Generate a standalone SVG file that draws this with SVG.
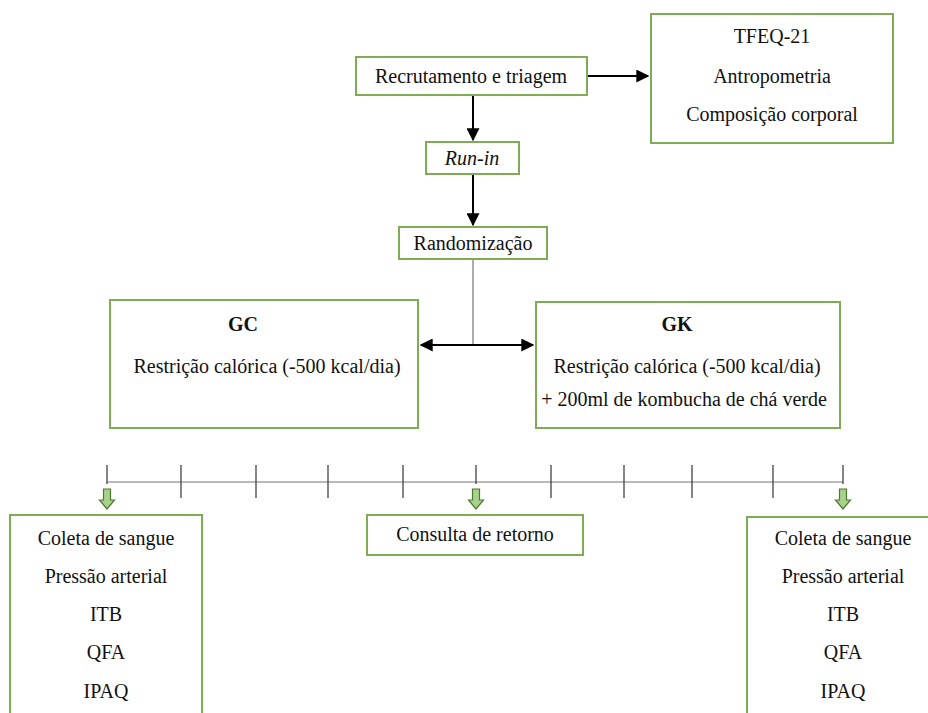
<svg xmlns="http://www.w3.org/2000/svg" width="928" height="713" viewBox="0 0 928 713">
<style>
.box{fill:#fff;stroke:#7fab55;stroke-width:2}
.t{font-family:"Liberation Serif",Tinos,"Times New Roman","DejaVu Serif",serif;font-size:20px;fill:#111;text-anchor:middle}
.b{font-weight:bold}
.arr{stroke:#000;stroke-width:2;fill:none}
.gl{stroke:#777;stroke-width:1.2;fill:none}
.tick{stroke:#333;stroke-width:1.2}
.ga{fill:#a9d18e;stroke:#4e7a2e;stroke-width:1.2}
</style>
<defs>
<marker id="ah" viewBox="0 0 10 10" refX="9" refY="5" markerWidth="6.5" markerHeight="6.5" orient="auto-start-reverse" markerUnits="strokeWidth">
<path d="M0,0 L10,5 L0,10 z" fill="#000"/>
</marker>
<path id="garrow" d="M-3.5,0 h7 v11 h4 l-7.5,9 l-7.5,-9 h4 z"/>
</defs>
<rect width="928" height="713" fill="#fff"/>
<g id="connectors">
<line class="arr" x1="588" y1="76" x2="648" y2="76" marker-end="url(#ah)"/>
<line class="arr" x1="473" y1="96" x2="473" y2="140" marker-end="url(#ah)"/>
<line class="arr" x1="473" y1="175" x2="473" y2="225" marker-end="url(#ah)"/>
<line class="gl" x1="473" y1="260" x2="473" y2="345"/>
<line class="arr" x1="421" y1="345" x2="533" y2="345" marker-start="url(#ah)" marker-end="url(#ah)"/>
</g>
<g id="timeline">
<line class="gl" x1="107" y1="482" x2="843" y2="482"/>
<line class="tick" x1="107" y1="465" x2="107" y2="484"/>
<line class="tick" x1="181" y1="465" x2="181" y2="498"/>
<line class="tick" x1="256" y1="465" x2="256" y2="498"/>
<line class="tick" x1="328" y1="465" x2="328" y2="498"/>
<line class="tick" x1="403" y1="465" x2="403" y2="498"/>
<line class="tick" x1="476" y1="465" x2="476" y2="484"/>
<line class="tick" x1="551" y1="465" x2="551" y2="498"/>
<line class="tick" x1="624" y1="465" x2="624" y2="498"/>
<line class="tick" x1="692" y1="465" x2="692" y2="498"/>
<line class="tick" x1="773" y1="465" x2="773" y2="498"/>
<line class="tick" x1="843" y1="465" x2="843" y2="484"/>
<use href="#garrow" class="ga" x="107" y="489"/>
<use href="#garrow" class="ga" x="476" y="489"/>
<use href="#garrow" class="ga" x="843" y="489"/>
</g>
<g id="recrutamento">
<rect class="box" x="356" y="57" width="231" height="38"/>
<text class="t" x="471" y="83">Recrutamento e triagem</text>
</g>
<g id="tfeq">
<rect class="box" x="651" y="14" width="242" height="129"/>
<text class="t" x="772" y="43">TFEQ-21</text>
<text class="t" x="772" y="83">Antropometria</text>
<text class="t" x="772" y="121">Composição corporal</text>
</g>
<g id="runin">
<rect class="box" x="426" y="142" width="93" height="32"/>
<text class="t" x="472" y="165" font-style="italic">Run-in</text>
</g>
<g id="randomizacao">
<rect class="box" x="399" y="227" width="148" height="32"/>
<text class="t" x="473" y="250">Randomização</text>
</g>
<g id="gc">
<rect class="box" x="110" y="300" width="308" height="128"/>
<text class="t b" x="243" y="331">GC</text>
<text class="t" x="267" y="373">Restrição calórica (-500 kcal/dia)</text>
</g>
<g id="gk">
<rect class="box" x="536" y="302" width="304" height="126"/>
<text class="t b" x="677" y="331">GK</text>
<text class="t" x="687" y="373">Restrição calórica (-500 kcal/dia)</text>
<text class="t" x="684" y="406">+ 200ml de kombucha de chá verde</text>
</g>
<g id="coleta1">
<rect class="box" x="10" y="515" width="192" height="210"/>
<text class="t" x="106" y="545">Coleta de sangue</text>
<text class="t" x="106" y="583">Pressão arterial</text>
<text class="t" x="106" y="621">ITB</text>
<text class="t" x="106" y="659">QFA</text>
<text class="t" x="106" y="698">IPAQ</text>
</g>
<g id="consulta">
<rect class="box" x="367" y="515" width="216" height="40"/>
<text class="t" x="475" y="541">Consulta de retorno</text>
</g>
<g id="coleta2">
<rect class="box" x="747" y="517" width="200" height="210"/>
<text class="t" x="843" y="545">Coleta de sangue</text>
<text class="t" x="843" y="583">Pressão arterial</text>
<text class="t" x="843" y="621">ITB</text>
<text class="t" x="843" y="659">QFA</text>
<text class="t" x="843" y="698">IPAQ</text>
</g>
</svg>
